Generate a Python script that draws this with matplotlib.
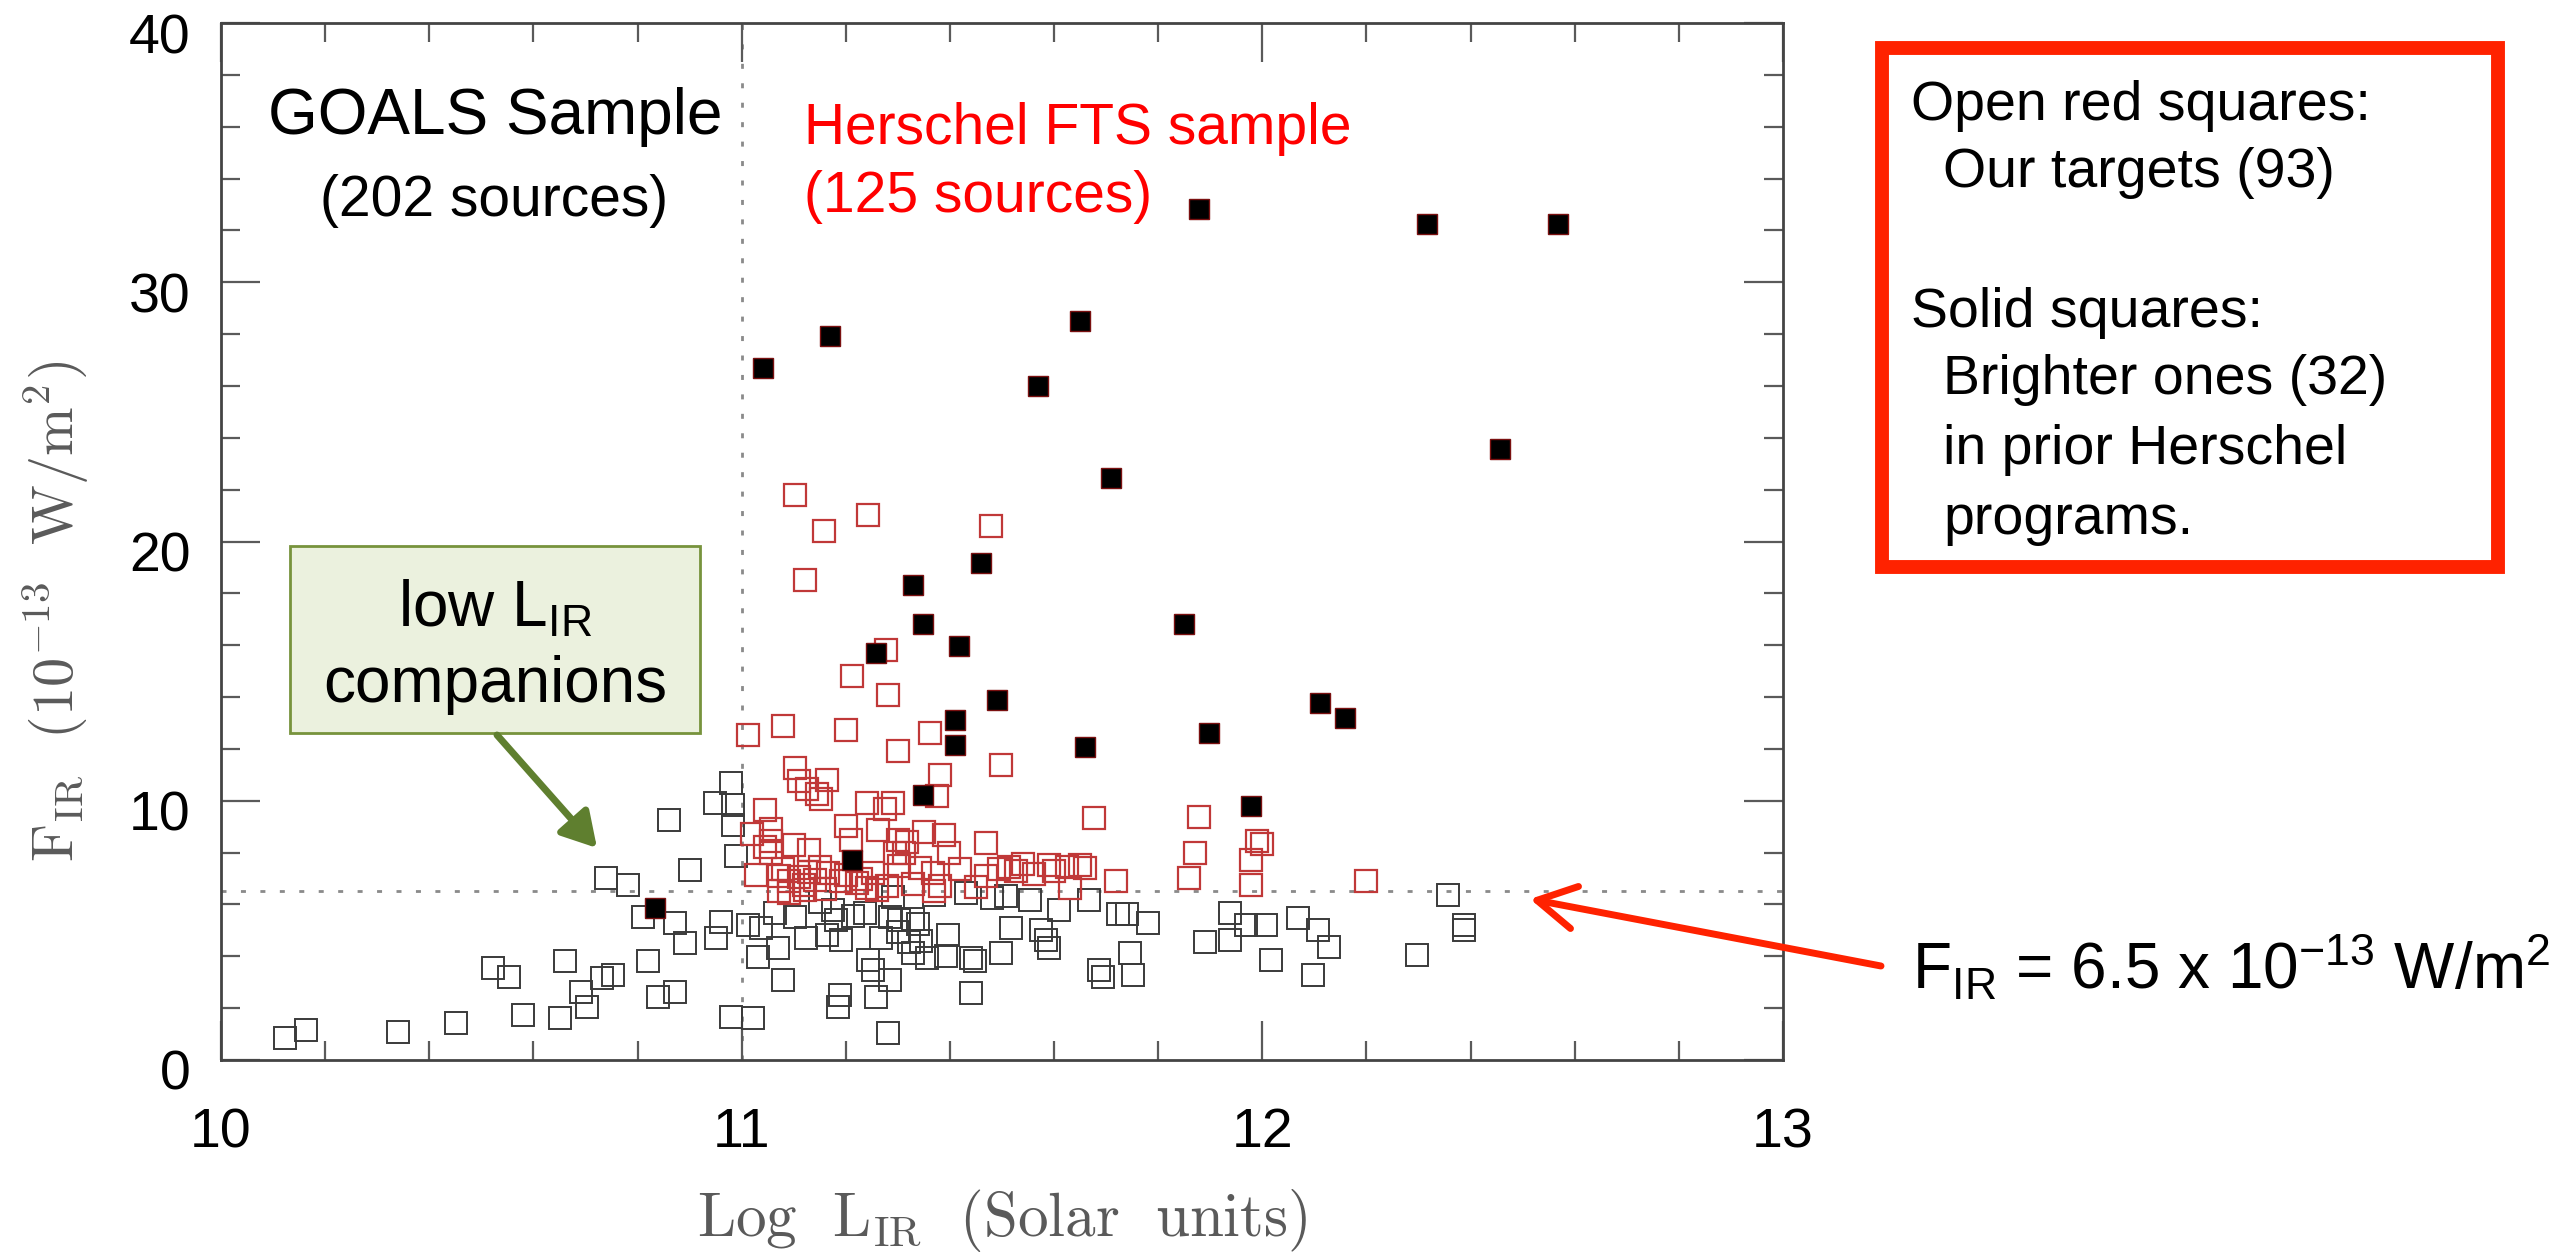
import matplotlib.pyplot as plt
from matplotlib.patches import Rectangle, FancyArrowPatch
from matplotlib.ticker import MultipleLocator
from matplotlib.transforms import ScaledTranslation

plt.rcParams['font.family'] = ['Liberation Sans', 'DejaVu Sans']
plt.rcParams['mathtext.fontset'] = 'custom'
plt.rcParams['mathtext.rm'] = 'Liberation Sans'
plt.rcParams['mathtext.it'] = 'Liberation Sans:italic'

# --- data: log L_IR vs F_IR (1e-13 W/m2) ---
# GOALS sources outside the FTS sample (open black)
goals_x = [10.123, 10.164, 10.340, 10.452, 10.523, 10.553, 10.580, 10.651, 10.660, 10.692,
           10.702, 10.731, 10.753, 10.740, 10.782, 10.811, 10.871, 10.891, 10.820, 10.839,
           10.871, 10.860, 10.900,
           10.980, 10.948, 10.983, 10.983, 10.990, 10.951, 10.961, 11.012, 11.038, 11.032,
           11.070, 11.079, 10.980, 11.022, 11.064, 11.102, 11.124, 11.163, 11.175, 11.182,
           11.191, 11.188, 11.185, 11.236, 11.243, 11.252, 11.258, 11.284, 11.281, 11.268,
           11.284, 11.303, 11.330, 11.338, 11.322, 11.345, 11.329, 11.355, 11.396, 11.393,
           11.440, 11.448, 11.441, 11.499, 11.518, 11.575, 11.585, 11.591, 11.610, 11.668,
           11.687, 11.694, 11.745, 11.751, 11.722, 11.740, 11.431, 11.290, 11.508, 11.553,
           11.213, 11.300, 11.370, 11.480, 11.150,
           11.780, 11.937, 11.968, 12.007, 11.889, 11.937, 12.068, 12.106, 12.128, 12.017,
           12.097, 12.298, 12.356, 12.388, 12.388]
goals_y = [0.84, 1.16, 1.09, 1.42, 3.54, 3.19, 1.74, 1.61, 3.80, 2.64,
           2.06, 3.15, 3.28, 7.01, 6.76, 5.53, 5.28, 4.50, 3.80, 2.44,
           2.64, 9.27, 7.34,
           10.68, 9.91, 9.85, 9.07, 7.85, 4.70, 5.34, 5.21, 5.08, 3.99,
           4.31, 3.09, 1.67, 1.61, 5.66, 5.53, 4.70, 4.83, 5.79, 5.40,
           4.63, 2.51, 2.06, 5.66, 3.86, 3.47, 2.44, 3.09, 1.03, 4.70,
           5.53, 5.40, 5.45, 5.25, 4.57, 4.60, 4.12, 3.95, 4.83, 4.02,
           3.95, 3.80, 2.57, 4.12, 5.08, 5.02, 4.63, 4.31, 5.79, 6.18,
           3.47, 3.22, 4.12, 3.28, 5.62, 5.62, 6.44, 6.30, 6.31, 6.18,
           5.55, 4.95, 6.35, 6.25, 6.10,
           5.28, 5.66, 5.20, 5.20, 4.57, 4.63, 5.47, 5.02, 4.37, 3.86,
           3.28, 4.05, 6.37, 5.20, 5.00]

# Herschel FTS targets (open red)
fts_x = [11.102, 11.243, 11.159, 11.121, 11.479,
         11.278, 11.211, 11.281, 11.012, 11.079, 11.201, 11.300, 11.361, 11.498,
         11.102, 11.163, 11.110, 11.125, 11.145, 11.152, 11.380, 11.375,
         11.044, 11.240, 11.275, 11.290, 11.201, 11.262, 11.057, 11.057, 11.057, 11.045,
         11.130, 11.210, 11.300, 11.318, 11.295, 11.312, 11.389, 11.399, 11.469,
         11.028, 11.072, 11.090, 11.110, 11.130, 11.150, 11.165, 11.072, 11.090, 11.122, 11.160,
         11.221, 11.252, 11.303, 11.342, 11.368, 11.380, 11.370, 11.450, 11.494, 11.513, 11.526,
         11.562, 11.591, 11.624, 11.649, 11.630, 11.677, 11.719, 11.230, 11.190, 11.280, 11.260,
         11.879, 11.870, 11.860, 11.990, 12.000, 11.978, 11.978, 12.199,
         11.080, 11.120, 11.140, 11.200, 11.240, 11.330, 11.420, 11.470, 11.540, 11.600,
         11.660, 11.100, 11.350, 11.020]
fts_y = [21.81, 21.04, 20.40, 18.53, 20.59,
         15.83, 14.80, 14.09, 12.55, 12.87, 12.74, 11.90, 12.61, 11.39,
         11.26, 10.81, 10.75, 10.45, 10.25, 10.05, 11.00, 10.20,
         9.65, 9.91, 9.70, 9.90, 9.01, 8.88, 8.90, 8.45, 7.98, 8.20,
         8.11, 8.50, 8.50, 8.40, 8.00, 7.98, 8.69, 7.98, 8.37,
         7.14, 7.10, 6.90, 7.05, 7.25, 7.45, 7.20, 6.50, 6.45, 6.55, 6.60,
         6.82, 7.21, 7.47, 7.40, 7.20, 6.70, 6.52, 6.69, 7.35, 7.45, 7.30,
         7.19, 7.52, 7.45, 7.52, 6.63, 9.33, 6.89, 7.00, 6.90, 6.70, 6.55,
         9.39, 7.98, 7.01, 8.45, 8.35, 7.72, 6.76, 6.89,
         7.35, 6.75, 6.95, 7.15, 6.65, 6.80, 7.35, 7.10, 7.55, 7.30,
         7.40, 8.30, 8.80, 8.70]

# brighter ones in prior Herschel programs (solid)
solid_x = [11.879, 12.317, 12.568, 12.457, 11.041, 11.169, 11.649, 11.569, 11.710, 11.460,
           11.329, 11.348, 11.418, 11.258, 11.850, 11.490, 11.409, 11.409, 11.898, 12.110,
           12.158, 11.659, 11.978, 11.348, 11.211, 10.833]
solid_y = [32.82, 32.24, 32.24, 23.55, 26.71, 27.93, 28.51, 26.00, 22.46, 19.18,
           18.34, 16.80, 15.96, 15.70, 16.80, 13.90, 13.13, 12.16, 12.61, 13.77,
           13.19, 12.09, 9.78, 10.23, 7.72, 5.86]

flux_cut = 6.5
lum_cut = 11.0

W, H = 2572, 1254
def fx(px):
    return px / W
def fy(py):
    return 1 - py / H

fig = plt.figure(figsize=(W / 100, H / 100), dpi=100)
ax = fig.add_axes([fx(221), fy(1060), (1783 - 221) / W, (1060 - 23) / H])

dots = (0, (1.8, 5.2))
ax.axhline(flux_cut, color='#8a8a8a', lw=2, ls=dots, zorder=1)
ax.axvline(lum_cut, color='#8a8a8a', lw=2, ls=dots, zorder=1)

ax.plot(goals_x, goals_y, 's', ms=15.5, mfc='none', mec='#3a3a3a', mew=1.4, zorder=2)
ax.plot(fts_x, fts_y, 's', ms=15.5, mfc='none', mec='#c03838', mew=1.6, zorder=3)
ax.plot(solid_x, solid_y, 's', ms=14, mfc='black', mec='#7a1010', mew=1.0, zorder=4)

ax.set_xlim(10, 13)
ax.set_ylim(0, 40)
ax.set_xticks([10, 11, 12, 13])
ax.set_yticks([0, 10, 20, 30, 40])
ax.xaxis.set_minor_locator(MultipleLocator(0.2))
ax.yaxis.set_minor_locator(MultipleLocator(2))
ax.tick_params(which='both', direction='in', top=True, right=True, color='#5a5a5a', width=1.6)
ax.tick_params(which='major', length=28, labelsize=40, labelcolor='black')
ax.tick_params(axis='x', which='major', pad=34)
ax.tick_params(axis='y', which='major', pad=22)
ax.tick_params(which='minor', length=14)
for s in ax.spines.values():
    s.set_color('#444444')
    s.set_linewidth(2)
shift = ScaledTranslation(0, -0.10, fig.dpi_scale_trans)
for lab in ax.get_yticklabels():
    lab.set_transform(lab.get_transform() + shift)

# axis labels (serif, grey)
fig.text(fx(1002), fy(1236), r'$\mathrm{Log\ \ L_{IR}\ \ (Solar\ \ units)}$', fontsize=44,
         color='#5a5a5a', ha='center', va='baseline', math_fontfamily='cm')
fig.text(fx(57), fy(611), r'$\mathrm{F_{IR}\ \ (10^{-13}\ \ W/m^2)}$', fontsize=42,
         color='#5a5a5a', ha='center', va='center', rotation=90, math_fontfamily='cm')

# sample labels
fig.text(fx(495), fy(134), 'GOALS Sample', fontsize=46, ha='center', va='baseline')
fig.text(fx(494), fy(216), '(202 sources)', fontsize=41, ha='center', va='baseline')
fig.text(fx(804), fy(144), 'Herschel FTS sample', fontsize=41, color='#ff0000', va='baseline')
fig.text(fx(804), fy(212), '(125 sources)', fontsize=41, color='#ff0000', va='baseline')

# legend box on the right
red = '#ff2200'
fig.add_artist(Rectangle((fx(1882), fy(567)), (2498 - 1882) / W, (567 - 48) / H,
                         transform=fig.transFigure, fill=False, ec=red, lw=10))
legend_lines = [('Open red squares:', 1911, 120), ('Our targets (93)', 1943, 187),
                ('Solid squares:', 1911, 327), ('Brighter ones (32)', 1943, 394),
                ('in prior Herschel', 1943, 464), ('programs.', 1943, 534)]
for txt, x0, y0 in legend_lines:
    fig.text(fx(x0), fy(y0), txt, fontsize=40, va='baseline')

# low L_IR companions callout
fig.add_artist(Rectangle((fx(290), fy(733)), (700 - 290) / W, (733 - 546) / H,
                         transform=fig.transFigure, fc='#ebf1de', ec='#77933c', lw=2))
fig.text(fx(495), fy(627), r'low L$_{\mathrm{IR}}$', fontsize=46, ha='center', va='baseline')
fig.text(fx(495), fy(702), 'companions', fontsize=46, ha='center', va='baseline')
fig.add_artist(FancyArrowPatch((fx(497), fy(735)), (fx(597), fy(848)), transform=fig.transFigure,
                               arrowstyle='-|>,head_length=0.38,head_width=0.22', mutation_scale=55,
                               color='#5f7f2f', lw=5, shrinkA=0, shrinkB=0))

# flux cut annotation
fig.add_artist(FancyArrowPatch((fx(1881), fy(966)), (fx(1530), fy(899)), transform=fig.transFigure,
                               arrowstyle='->,head_length=0.5,head_width=0.28', mutation_scale=55,
                               color=red, lw=5, shrinkA=0, shrinkB=0))
fig.text(fx(1912), fy(990), r'F$_{\mathrm{IR}}$ = 6.5 x 10$^{\mathrm{-13}}$ W/m$^{\mathrm{2}}$',
         fontsize=46, va='baseline')

fig.savefig('out.png', dpi=100)
